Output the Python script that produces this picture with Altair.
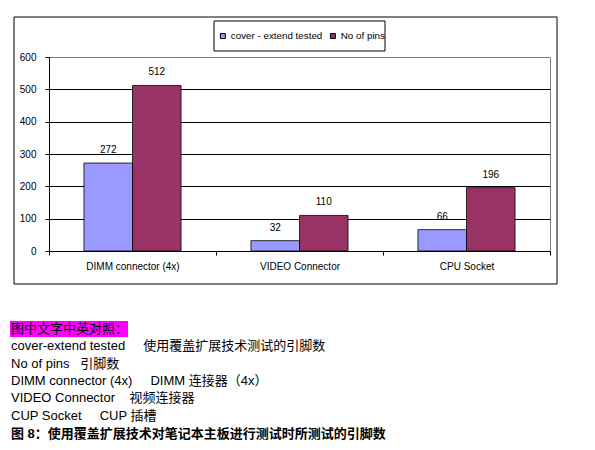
import altair as alt
import pandas as pd

# ---- data ----
categories = ["DIMM connector (4x)", "VIDEO Connector", "CPU Socket"]
series_names = ["cover - extend tested", "No of pins"]
cover_extend_tested = [272, 32, 66]
no_of_pins = [512, 110, 196]
series_colors = ["#9999FF", "#993366"]
y_ticks = [0, 100, 200, 300, 400, 500, 600]

NB = "\u00a0"
caption_lines = [
    "图中文字中英对照：",
    "cover-extend tested" + NB * 5 + "使用覆盖扩展技术测试的引脚数",
    "No of pins" + NB * 3 + "引脚数",
    "DIMM connector (4x)" + NB * 5 + "DIMM 连接器（4x）",
    "VIDEO Connector" + NB * 4 + "视频连接器",
    "CUP Socket" + NB * 5 + "CUP 插槽",
]
figure_caption = "图 8：使用覆盖扩展技术对笔记本主板进行测试时所测试的引脚数"

rows = []
for i, c in enumerate(categories):
    rows.append({"category": c, "series": series_names[0], "value": cover_extend_tested[i]})
    rows.append({"category": c, "series": series_names[1], "value": no_of_pins[i]})
df = pd.DataFrame(rows)

FONT = "Liberation Sans, Arial, Noto Sans CJK SC"
one = pd.DataFrame({"k": [0]})

# ---- decorations ----
outer_box = alt.Chart(one).mark_rect(fillOpacity=0, stroke="black", strokeWidth=1).encode(
    x=alt.value(-35), x2=alt.value(508), y=alt.value(-40), y2=alt.value(227)
)
legend_box = alt.Chart(one).mark_rect(fill="white", stroke="black", strokeWidth=1).encode(
    x=alt.value(165), x2=alt.value(336), y=alt.value(-36), y2=alt.value(-6)
)
highlight = alt.Chart(one).mark_rect(fill="#FF00FF").encode(
    x=alt.value(-39), x2=alt.value(79), y=alt.value(264), y2=alt.value(280)
)
caption = alt.Chart(one).mark_text(
    align="left", baseline="alphabetic", fontSize=13, lineHeight=17.35, font=FONT, color="black"
).encode(x=alt.value(-38), y=alt.value(276), text=alt.value(caption_lines))
caption_bold = alt.Chart(one).mark_text(
    align="left", baseline="alphabetic", fontSize=13, fontWeight="bold", font=FONT, color="black"
).encode(x=alt.value(-38), y=alt.value(380.5), text=alt.value(figure_caption))

# ---- chart ----
base = alt.Chart(df).encode(
    x=alt.X(
        "category:N",
        sort=categories,
        scale=alt.Scale(paddingInner=0, paddingOuter=0),
        axis=alt.Axis(
            title=None, labelAngle=0, tickBand="extent", tickSize=4, labelPadding=6,
            grid=False, domainColor="black", tickColor="black",
        ),
    ),
    xOffset=alt.XOffset(
        "series:N", sort=series_names, scale=alt.Scale(paddingInner=0, paddingOuter=0.72)
    ),
    y=alt.Y(
        "value:Q",
        scale=alt.Scale(domain=[0, 600], nice=False),
        axis=alt.Axis(
            title=None, values=y_ticks, tickSize=4, labelPadding=9,
            domainColor="black", tickColor="black", grid=True,
            gridColor={"condition": {"test": "datum.value === 600", "value": "#808080"}, "value": "black"},
            gridWidth=1,
        ),
    ),
)

bars = base.mark_bar(stroke="black", strokeWidth=0.8).encode(
    color=alt.Color(
        "series:N",
        sort=series_names,
        scale=alt.Scale(domain=series_names, range=series_colors),
        legend=alt.Legend(
            title=None, orient="none", legendX=169, legendY=-26, direction="horizontal",
            symbolType="square", symbolSize=25, symbolStrokeColor="black", symbolStrokeWidth=1,
            labelFontSize=9.8, labelFont=FONT, labelColor="black", labelOffset=3,
            columnPadding=5, padding=0,
        ),
    )
)

labels = base.mark_text(dy=-13, fontSize=10, font=FONT, color="black", baseline="middle").encode(
    text="value:Q"
)

chart = alt.layer(outer_box, legend_box, highlight, caption, caption_bold, bars, labels).properties(
    width=501,
    height=194,
    autosize=alt.AutoSizeParams(type="none"),
    padding={"left": 41, "top": 49, "right": 37, "bottom": 190},
).configure_view(
    stroke="#808080", strokeWidth=1
).configure_axis(
    labelFont=FONT, labelFontSize=10, labelColor="black"
)

chart.save("out.html", embed_options={"renderer": "svg", "actions": False})
